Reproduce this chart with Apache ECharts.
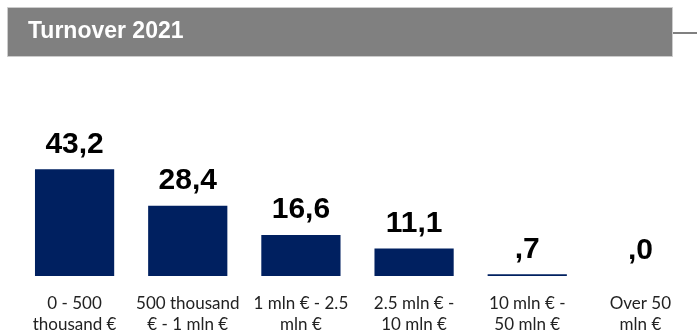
<!DOCTYPE html>
<html>
<head>
<meta charset="utf-8">
<script src="https://cdn.jsdelivr.net/npm/echarts@6/dist/echarts.min.js"></script>
<style>
html,body{margin:0;padding:0;background:#fff;}
#chart{width:697px;height:336px;}
</style>
</head>
<body>
<div id="chart"></div>
<script>
// Turnover classes and share of companies (%)
const categories = [
  "0 - 500\nthousand €",
  "500 thousand\n€ - 1 mln €",
  "1 mln € - 2.5\nmln €",
  "2.5 mln € -\n10 mln €",
  "10 mln € -\n50 mln €",
  "Over 50\nmln €"
];
const shares = [43.2, 28.4, 16.6, 11.1, 0.7, 0.0];
const titleText = "Turnover 2021";

// Decimal comma, leading zero dropped (0.7 -> ",7")
function fmt(v) {
  let s = v.toFixed(1).replace('.', ',');
  if (s.startsWith('0,')) s = s.slice(1);
  return s;
}

const chart = echarts.init(document.getElementById('chart'));
chart.setOption({
  animation: false,
  graphic: [
    { type: 'rect', shape: { x: 7.5, y: 7.5, width: 665, height: 49 },
      style: { fill: '#808080', stroke: '#cccccc', lineWidth: 1 } },
    { type: 'line', shape: { x1: 673, y1: 33, x2: 697, y2: 33 },
      style: { stroke: '#808080', lineWidth: 2 } },
    { type: 'text', left: 28, top: 20,
      style: { text: titleText, fill: '#ffffff', font: 'bold 23px "Liberation Sans", Arial, sans-serif' } }
  ],
  grid: { left: 18, right: 0, top: 152.5, bottom: 60, outerBoundsMode: 'none', containLabel: false },
  xAxis: {
    type: 'category',
    data: categories,
    axisLine: { show: false },
    axisTick: { show: false },
    axisLabel: {
      interval: 0, margin: 17, color: '#222',
      fontFamily: 'Lato, "Noto Sans", sans-serif', fontSize: 17, lineHeight: 21
    }
  },
  yAxis: { type: 'value', min: 0, max: 50, show: false, splitLine: { show: false } },
  series: [{
    type: 'bar',
    data: shares,
    barWidth: '70%',
    itemStyle: { color: '#002060' },
    label: {
      show: true, position: 'top', distance: 10,
      formatter: p => fmt(p.value),
      color: '#000', fontWeight: 'bold', fontSize: 30,
      fontFamily: '"Liberation Sans", Arial, sans-serif'
    }
  }]
});
</script>
</body>
</html>
